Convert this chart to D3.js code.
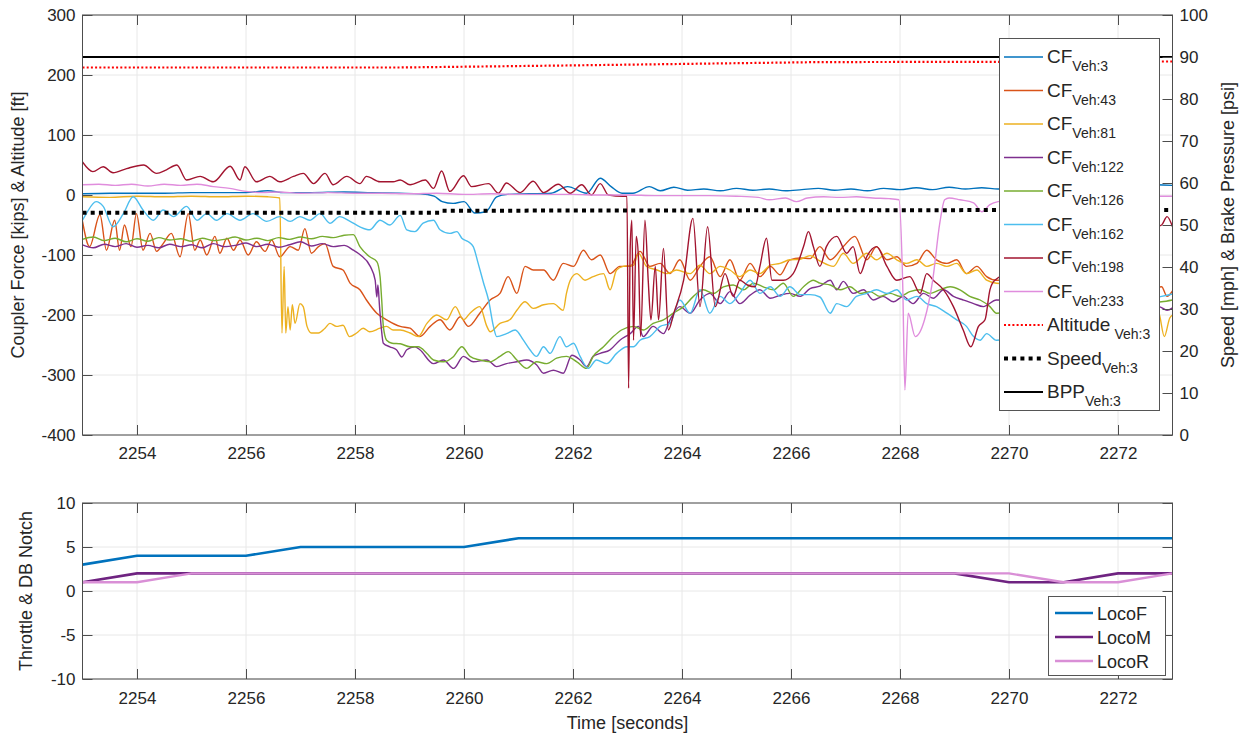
<!DOCTYPE html>
<html>
<head>
<meta charset="utf-8">
<script src="https://cdn.jsdelivr.net/npm/d3@7"></script>
<style>
  body { margin: 0; background: #fff; }
  text { font-family: "Liberation Sans", Arial, Helvetica, sans-serif; fill: #262626; }
</style>
</head>
<body>
<svg id="chart" width="1249" height="734"></svg>
<script>
/* global d3 */

// ---- data ----
var xTicks = [2254, 2256, 2258, 2260, 2262, 2264, 2266, 2268, 2270, 2272];
var leftTicks = [-400, -300, -200, -100, 0, 100, 200, 300];
var rightTicks = [0, 10, 20, 30, 40, 50, 60, 70, 80, 90, 100];
var notchTicks = [-10, -5, 0, 5, 10];

// coupler forces [time, kips]
var cf3 = [[2253.0,2],[2253.5,3],[2254.0,3],[2254.5,3],[2255.0,4],[2255.5,4],[2256.0,4],[2256.4,7],[2256.7,4],[2257.2,4],[2257.8,5],[2258.3,4],[2258.8,3],[2259.2,2],[2259.45,-2],[2259.6,-11],[2259.8,-14],[2260.0,-11],[2260.2,-30],[2260.4,-28],[2260.6,-3],[2260.8,1],[2261.2,2],[2261.6,3],[2261.9,14],[2262.25,3],[2262.5,28],[2262.7,14],[2262.9,3],[2263.1,3],[2263.4,14],[2263.6,7],[2263.85,13],[2264.1,8],[2264.4,10],[2264.7,7],[2265.0,11],[2265.3,8],[2265.6,10],[2265.9,7],[2266.2,9],[2266.5,11],[2266.8,8],[2267.1,10],[2267.4,7],[2267.7,11],[2268.0,9],[2268.3,12],[2268.6,9],[2268.9,13],[2269.2,10],[2269.5,12],[2269.8,10],[2270.5,12],[2271.5,14],[2272.3,15],[2272.7,17],[2273.0,16]];
var cf43 = [[2253.0,-44],[2253.13,-86],[2253.32,-33],[2253.44,-92],[2253.59,-42],[2253.68,-92],[2253.77,-50],[2253.89,-86],[2253.99,-31],[2254.11,-92],[2254.24,-64],[2254.36,-94],[2254.48,-81],[2254.63,-64],[2254.79,-103],[2254.94,-31],[2255.06,-92],[2255.16,-75],[2255.28,-100],[2255.43,-69],[2255.52,-97],[2255.65,-72],[2255.77,-92],[2255.89,-75],[2256.04,-100],[2256.19,-78],[2256.35,-94],[2256.47,-75],[2256.62,-103],[2256.81,-86],[2256.96,-92],[2257.08,-56],[2257.2,-97],[2257.33,-86],[2257.45,-81],[2257.6,-119],[2257.78,-125],[2257.91,-147],[2258.09,-158],[2258.21,-175],[2258.4,-197],[2258.58,-208],[2258.83,-219],[2259.01,-222],[2259.19,-236],[2259.38,-219],[2259.56,-208],[2259.74,-225],[2259.93,-203],[2260.08,-219],[2260.29,-197],[2260.48,-175],[2260.66,-164],[2260.81,-136],[2260.97,-164],[2261.12,-119],[2261.27,-125],[2261.46,-125],[2261.64,-142],[2261.82,-114],[2262.01,-119],[2262.19,-92],[2262.34,-108],[2262.5,-100],[2262.68,-131],[2262.86,-119],[2263.05,-119],[2263.23,-94],[2263.41,-119],[2263.6,-114],[2263.78,-131],[2263.96,-108],[2264.15,-142],[2264.33,-119],[2264.51,-103],[2264.7,-136],[2264.88,-108],[2265.06,-142],[2265.25,-114],[2265.43,-136],[2265.62,-119],[2265.8,-133],[2265.98,-108],[2266.17,-105],[2266.35,-106],[2266.53,-86],[2266.72,-108],[2266.96,-86],[2267.17,-69],[2267.39,-108],[2267.57,-86],[2267.76,-108],[2267.94,-103],[2268.12,-119],[2268.31,-114],[2268.49,-92],[2268.67,-108],[2268.86,-114],[2269.04,-108],[2269.22,-131],[2269.41,-119],[2269.59,-136],[2269.77,-142],[2270.3,-140],[2271.0,-150],[2271.8,-155],[2272.4,-160],[2272.8,-153],[2272.9,-169],[2273.0,-160]];
var cf81 = [[2253.0,-3],[2253.5,-4],[2254.0,-2],[2254.5,-3],[2255.0,-2],[2255.5,-3],[2256.0,-2],[2256.4,-3],[2256.62,-5],[2256.66,-230],[2256.7,-119],[2256.73,-230],[2256.77,-186],[2256.81,-225],[2256.85,-183],[2256.9,-214],[2256.99,-181],[2257.05,-186],[2257.12,-219],[2257.2,-230],[2257.33,-230],[2257.45,-222],[2257.54,-214],[2257.66,-219],[2257.78,-217],[2257.9,-236],[2258.03,-230],[2258.15,-222],[2258.27,-228],[2258.46,-222],[2258.58,-219],[2258.7,-225],[2258.83,-225],[2259.01,-230],[2259.16,-236],[2259.32,-214],[2259.5,-200],[2259.68,-208],[2259.84,-186],[2259.99,-208],[2260.11,-197],[2260.29,-186],[2260.42,-219],[2260.48,-228],[2260.66,-214],[2260.84,-208],[2260.97,-192],[2261.12,-178],[2261.27,-189],[2261.46,-183],[2261.64,-181],[2261.82,-192],[2261.88,-164],[2261.95,-142],[2262.07,-131],[2262.22,-142],[2262.37,-136],[2262.56,-131],[2262.68,-158],[2262.8,-125],[2262.92,-119],[2263.11,-117],[2263.2,-97],[2263.35,-119],[2263.54,-125],[2263.72,-131],[2263.9,-125],[2264.15,-131],[2264.33,-117],[2264.51,-131],[2264.7,-119],[2264.88,-125],[2265.06,-136],[2265.25,-125],[2265.43,-131],[2265.62,-117],[2265.8,-114],[2265.98,-108],[2266.17,-107],[2266.35,-101],[2266.53,-110],[2266.78,-119],[2266.96,-97],[2267.14,-114],[2267.39,-97],[2267.57,-108],[2267.76,-97],[2267.94,-108],[2268.12,-114],[2268.31,-108],[2268.49,-119],[2268.67,-114],[2268.86,-119],[2269.04,-114],[2269.22,-131],[2269.41,-125],[2269.59,-142],[2269.77,-147],[2270.4,-150],[2271.2,-160],[2272.0,-170],[2272.5,-180],[2272.75,-197],[2272.85,-236],[2272.95,-205],[2273.0,-200]];
var cf122 = [[2253.0,-83],[2253.2,-88],[2253.4,-82],[2253.6,-86],[2253.8,-81],[2254.0,-87],[2254.2,-84],[2254.4,-88],[2254.6,-82],[2254.8,-86],[2255.0,-83],[2255.2,-88],[2255.4,-81],[2255.6,-86],[2255.8,-84],[2256.0,-80],[2256.2,-86],[2256.4,-82],[2256.6,-87],[2256.8,-83],[2257.0,-78],[2257.2,-85],[2257.4,-81],[2257.6,-86],[2257.8,-84],[2257.97,-92],[2258.1,-100],[2258.28,-119],[2258.37,-142],[2258.4,-170],[2258.42,-150],[2258.45,-186],[2258.48,-219],[2258.52,-247],[2258.64,-253],[2258.76,-258],[2258.86,-270],[2258.95,-258],[2259.1,-253],[2259.19,-258],[2259.44,-281],[2259.62,-275],[2259.81,-289],[2259.99,-269],[2260.17,-278],[2260.42,-275],[2260.6,-286],[2260.78,-281],[2260.97,-278],[2261.15,-275],[2261.33,-283],[2261.46,-297],[2261.64,-292],[2261.82,-297],[2261.98,-267],[2262.13,-275],[2262.25,-286],[2262.37,-269],[2262.5,-264],[2262.68,-258],[2262.86,-242],[2263.05,-231],[2263.2,-219],[2263.29,-236],[2263.47,-219],[2263.66,-231],[2263.78,-208],[2263.96,-186],[2264.15,-197],[2264.33,-175],[2264.51,-164],[2264.7,-181],[2264.88,-161],[2265.06,-181],[2265.25,-167],[2265.43,-158],[2265.62,-172],[2265.8,-167],[2265.98,-164],[2266.17,-169],[2266.35,-156],[2266.53,-152],[2266.72,-142],[2266.84,-158],[2266.96,-144],[2267.14,-164],[2267.33,-158],[2267.51,-175],[2267.69,-169],[2267.88,-178],[2268.06,-169],[2268.24,-181],[2268.43,-164],[2268.61,-172],[2268.8,-158],[2268.98,-169],[2269.16,-175],[2269.35,-181],[2269.53,-186],[2269.77,-175],[2270.5,-180],[2271.5,-185],[2272.3,-188],[2272.75,-186],[2272.9,-192],[2273.0,-188]];
var cf126 = [[2253.0,-74],[2253.2,-70],[2253.4,-76],[2253.6,-72],[2253.8,-78],[2254.0,-73],[2254.2,-77],[2254.4,-71],[2254.6,-75],[2254.8,-73],[2255.0,-77],[2255.2,-72],[2255.4,-76],[2255.6,-74],[2255.8,-70],[2256.0,-75],[2256.2,-72],[2256.4,-76],[2256.6,-71],[2256.8,-74],[2257.0,-70],[2257.2,-73],[2257.4,-69],[2257.6,-71],[2257.8,-67],[2257.97,-66],[2258.09,-86],[2258.27,-103],[2258.4,-111],[2258.46,-136],[2258.49,-175],[2258.52,-219],[2258.58,-242],[2258.68,-247],[2258.83,-248],[2259.01,-253],[2259.16,-253],[2259.32,-264],[2259.44,-275],[2259.62,-278],[2259.81,-269],[2259.96,-253],[2260.11,-269],[2260.29,-275],[2260.48,-278],[2260.66,-269],[2260.81,-261],[2260.97,-275],[2261.15,-289],[2261.33,-278],[2261.52,-281],[2261.7,-272],[2261.88,-269],[2262.07,-278],[2262.25,-289],[2262.37,-269],[2262.56,-253],[2262.74,-236],[2262.89,-225],[2263.11,-219],[2263.29,-225],[2263.47,-214],[2263.66,-208],[2263.84,-197],[2264.03,-186],[2264.21,-169],[2264.39,-158],[2264.58,-164],[2264.76,-153],[2264.94,-150],[2265.13,-158],[2265.31,-147],[2265.49,-153],[2265.68,-158],[2265.86,-147],[2266.04,-169],[2266.23,-153],[2266.41,-142],[2266.53,-147],[2266.72,-150],[2266.9,-158],[2267.08,-153],[2267.27,-164],[2267.45,-161],[2267.63,-169],[2267.82,-164],[2268.0,-169],[2268.18,-161],[2268.37,-158],[2268.55,-164],[2268.73,-158],[2268.92,-153],[2269.1,-158],[2269.28,-169],[2269.47,-175],[2269.65,-186],[2269.77,-197],[2270.5,-190],[2271.5,-185],[2272.8,-178],[2273.0,-175]];
var cf162 = [[2253.0,-42],[2253.07,-31],[2253.25,-11],[2253.38,-19],[2253.56,-53],[2253.75,-31],[2253.93,-3],[2254.11,-25],[2254.3,-42],[2254.48,-25],[2254.67,-36],[2254.91,-19],[2255.1,-42],[2255.28,-31],[2255.46,-42],[2255.65,-31],[2255.89,-42],[2256.13,-31],[2256.38,-44],[2256.62,-36],[2256.81,-44],[2256.99,-36],[2257.17,-42],[2257.36,-31],[2257.54,-47],[2257.72,-36],[2257.91,-44],[2258.09,-53],[2258.27,-58],[2258.46,-42],[2258.64,-50],[2258.83,-34],[2258.95,-58],[2259.1,-61],[2259.25,-47],[2259.44,-42],[2259.56,-58],[2259.74,-64],[2259.87,-61],[2259.96,-72],[2260.08,-78],[2260.17,-86],[2260.26,-114],[2260.36,-147],[2260.45,-175],[2260.54,-219],[2260.6,-236],[2260.78,-231],[2260.94,-225],[2261.09,-242],[2261.21,-258],[2261.33,-269],[2261.46,-253],[2261.58,-264],[2261.76,-236],[2261.88,-253],[2262.01,-247],[2262.13,-269],[2262.28,-289],[2262.43,-275],[2262.62,-281],[2262.8,-264],[2262.99,-253],[2263.11,-253],[2263.23,-242],[2263.41,-236],[2263.6,-219],[2263.78,-214],[2263.96,-175],[2264.15,-197],[2264.33,-158],[2264.51,-197],[2264.7,-169],[2264.88,-181],[2265.06,-164],[2265.25,-142],[2265.43,-164],[2265.62,-153],[2265.8,-169],[2265.98,-153],[2266.17,-166],[2266.35,-166],[2266.53,-170],[2266.72,-197],[2266.84,-181],[2267.02,-186],[2267.2,-169],[2267.39,-164],[2267.57,-158],[2267.76,-164],[2267.94,-158],[2268.12,-175],[2268.31,-169],[2268.49,-181],[2268.67,-186],[2268.86,-197],[2269.04,-208],[2269.22,-219],[2269.35,-236],[2269.47,-242],[2269.59,-231],[2269.77,-242],[2270.5,-220],[2271.5,-195],[2272.8,-169],[2273.0,-165]];
var cf198 = [[2253.0,55],[2253.19,39],[2253.38,47],[2253.56,37],[2253.81,44],[2254.12,50],[2254.36,36],[2254.54,42],[2254.73,50],[2254.91,25],[2255.16,31],[2255.4,22],[2255.71,48],[2255.89,25],[2255.98,47],[2256.19,22],[2256.44,31],[2256.62,22],[2256.87,31],[2257.05,36],[2257.24,19],[2257.45,36],[2257.6,17],[2257.85,31],[2258.09,19],[2258.21,31],[2258.46,22],[2258.7,22],[2258.83,25],[2259.01,17],[2259.29,25],[2259.44,11],[2259.59,40],[2259.74,6],[2259.99,32],[2260.14,14],[2260.45,19],[2260.63,3],[2260.78,20],[2261.03,4],[2261.27,23],[2261.46,4],[2261.73,18],[2261.95,3],[2262.16,17],[2262.34,0],[2262.5,19],[2262.65,0],[2262.92,-2],[2262.99,-2],[2263.02,-322],[2263.05,-86],[2263.08,-42],[2263.11,-242],[2263.16,-69],[2263.2,-103],[2263.24,-236],[2263.32,-42],[2263.38,-142],[2263.43,-208],[2263.51,-119],[2263.57,-208],[2263.66,-89],[2263.75,-225],[2263.85,-197],[2264.03,-142],[2264.2,-39],[2264.33,-186],[2264.47,-53],[2264.61,-186],[2264.79,-131],[2264.94,-169],[2265.06,-142],[2265.2,-150],[2265.34,-153],[2265.43,-119],[2265.55,-72],[2265.65,-142],[2265.86,-142],[2266.04,-131],[2266.23,-86],[2266.32,-61],[2266.41,-86],[2266.53,-119],[2266.65,-86],[2266.84,-69],[2267.02,-97],[2267.14,-86],[2267.27,-131],[2267.39,-103],[2267.57,-86],[2267.76,-119],[2267.94,-142],[2268.18,-136],[2268.37,-164],[2268.49,-131],[2268.61,-142],[2268.8,-158],[2268.98,-186],[2269.16,-225],[2269.3,-253],[2269.44,-219],[2269.56,-208],[2269.65,-158],[2269.74,-142],[2270.3,-120],[2271.0,-90],[2271.8,-70],[2272.4,-60],[2272.8,-50],[2272.9,-36],[2273.0,-53]];
var cf233 = [[2253.0,17],[2253.3,18],[2253.6,16],[2253.9,18],[2254.2,15],[2254.5,18],[2254.8,16],[2255.1,18],[2255.4,14],[2255.7,11],[2256.0,6],[2256.3,4],[2256.6,5],[2257.0,3],[2257.5,4],[2258.0,3],[2258.5,3],[2259.0,2],[2259.5,3],[2260.0,1],[2260.5,2],[2261.0,1],[2261.5,1],[2262.0,1],[2262.5,0],[2263.0,0],[2263.5,-1],[2264.0,-1],[2264.5,-1],[2265.0,-2],[2265.4,-4],[2265.6,-8],[2265.9,-5],[2266.1,-11],[2266.3,-5],[2266.6,-3],[2266.9,-4],[2267.2,-3],[2267.5,-5],[2267.8,-6],[2267.98,-8],[2268.05,-150],[2268.09,-325],[2268.15,-197],[2268.28,-236],[2268.45,-208],[2268.6,-142],[2268.73,-47],[2268.82,-8],[2268.9,-5],[2269.1,-8],[2269.35,-13],[2269.5,-28],[2269.65,-16],[2269.8,-11],[2270.5,-5],[2271.5,-3],[2272.5,-2],[2273.0,-2]];

// altitude [ft] on the left axis, speed [mph] and brake pipe pressure [psi] on the right
var altitude = [[2253.0,212.5],[2258.8,212.5],[2262.0,216],[2266.5,221.5],[2273.0,222.5]];
var speed = [[2253.0,52.9],[2259.55,52.9],[2259.6,53.4],[2273.0,53.6]];
var bpp = [[2253.0,90],[2273.0,90]];

// throttle / dynamic brake notch, one sample per second
var locoTime = [2253,2254,2255,2256,2257,2258,2259,2260,2261,2262,2263,2264,2265,2266,2267,2268,2269,2270,2271,2272,2273];
var locoF = [3,4,4,4,5,5,5,5,6,6,6,6,6,6,6,6,6,6,6,6,6];
var locoM = [1,2,2,2,2,2,2,2,2,2,2,2,2,2,2,2,2,1,1,2,2];
var locoR = [1,1,2,2,2,2,2,2,2,2,2,2,2,2,2,2,2,2,1,1,2];

// ---- layout ----
var svg = d3.select('#chart');
var axisColor = '#4d4d4d', gridColor = '#e8e8e8';
var left = 82.5, right = 1172.5;
var top1 = 15, bot1 = 435, top2 = 503, bot2 = 679;
var plain = d => String(d);   // "2254", "-400" as in the original

var x = d3.scaleLinear().domain([2253, 2273]).range([left, right]);
var yL = d3.scaleLinear().domain([-400, 300]).range([bot1, top1]);
var yR = d3.scaleLinear().domain([0, 100]).range([bot1, top1]);
var yB = d3.scaleLinear().domain([-10, 10]).range([bot2, top2]);

var clip = svg.append('defs');
clip.append('clipPath').attr('id', 'clip1').append('rect')
  .attr('x', left).attr('y', top1).attr('width', right - left).attr('height', bot1 - top1);
clip.append('clipPath').attr('id', 'clip2').append('rect')
  .attr('x', left).attr('y', top2).attr('width', right - left).attr('height', bot2 - top2);

function grid(g, yScale, yTicks, y0, y1) {
  g.selectAll('line.gx').data(xTicks).enter().append('line')
    .attr('x1', d => x(d)).attr('x2', d => x(d)).attr('y1', y0).attr('y2', y1)
    .attr('stroke', gridColor).attr('stroke-width', 1);
  g.selectAll('line.gy').data(yTicks).enter().append('line')
    .attr('x1', left).attr('x2', right).attr('y1', d => yScale(d)).attr('y2', d => yScale(d))
    .attr('stroke', gridColor).attr('stroke-width', 1);
}

function styleAxis(g) {
  g.select('.domain').remove();
  g.selectAll('line').attr('stroke', axisColor);
  g.selectAll('text').attr('font-size', 17).attr('fill', '#262626')
    .attr('font-family', '"Liberation Sans", Arial, sans-serif');
}

// ---- top panel ----
var p1 = svg.append('g');
grid(p1.append('g'), yL, leftTicks, top1, bot1);

var lineL = d3.line().x(d => x(d[0])).y(d => yL(d[1])).curve(d3.curveMonotoneX);
var lineR = d3.line().x(d => x(d[0])).y(d => yR(d[1]));

var cfSeries = [
  { name: '3', data: cf3, color: '#0072BD' },
  { name: '43', data: cf43, color: '#D95319' },
  { name: '81', data: cf81, color: '#EDB120' },
  { name: '122', data: cf122, color: '#7E2F8E' },
  { name: '126', data: cf126, color: '#77AC30' },
  { name: '162', data: cf162, color: '#4DBEEE' },
  { name: '198', data: cf198, color: '#A2142F' },
  { name: '233', data: cf233, color: '#E08DDD' }
];

var plot1 = p1.append('g').attr('clip-path', 'url(#clip1)');
plot1.selectAll('path.cf').data(cfSeries).enter().append('path')
  .attr('class', 'cf')
  .attr('d', d => lineL(d.data))
  .attr('fill', 'none').attr('stroke', d => d.color).attr('stroke-width', 1.4);

plot1.append('path').attr('d', d3.line().x(d => x(d[0])).y(d => yL(d[1]))(altitude))
  .attr('fill', 'none').attr('stroke', '#ff0000').attr('stroke-width', 2.2)
  .attr('stroke-dasharray', '2,2.2');
plot1.append('path').attr('d', lineR(speed))
  .attr('fill', 'none').attr('stroke', '#000').attr('stroke-width', 4)
  .attr('stroke-dasharray', '4,4.2');
plot1.append('path').attr('d', lineR(bpp))
  .attr('fill', 'none').attr('stroke', '#000').attr('stroke-width', 2.2);

// axes, ticks pointing inward
p1.append('g').attr('transform', `translate(0,${bot1})`)
  .call(d3.axisBottom(x).tickValues(xTicks).tickFormat(plain).tickSizeInner(-10).tickSizeOuter(0).tickPadding(12))
  .call(styleAxis);
p1.append('g').attr('transform', `translate(0,${top1})`)
  .call(d3.axisTop(x).tickValues(xTicks).tickSizeInner(-10).tickSizeOuter(0).tickFormat(''))
  .call(styleAxis);
p1.append('g').attr('transform', `translate(${left},0)`)
  .call(d3.axisLeft(yL).tickValues(leftTicks).tickFormat(plain).tickSizeInner(-10).tickSizeOuter(0).tickPadding(7))
  .call(styleAxis);
p1.append('g').attr('transform', `translate(${right},0)`)
  .call(d3.axisRight(yR).tickValues(rightTicks).tickFormat(plain).tickSizeInner(-10).tickSizeOuter(0).tickPadding(7))
  .call(styleAxis);
p1.append('rect').attr('x', left).attr('y', top1).attr('width', right - left).attr('height', bot1 - top1)
  .attr('fill', 'none').attr('stroke', axisColor).attr('stroke-width', 1);

p1.append('text').attr('transform', `translate(24,${(top1 + bot1) / 2}) rotate(-90)`)
  .attr('text-anchor', 'middle').attr('font-size', 18)
  .text('Coupler Force [kips] & Altitude [ft]');
p1.append('text').attr('transform', `translate(1234,${(top1 + bot1) / 2}) rotate(-90)`)
  .attr('text-anchor', 'middle').attr('font-size', 18)
  .text('Speed [mph] & Brake Pressure [psi]');

// legend of the top panel
var legendItems = cfSeries.map(d => ({ main: 'CF', sub: 'Veh:' + d.name, color: d.color, width: 1.4, dash: null }))
  .concat([
    { main: 'Altitude', sub: 'Veh:3', color: '#ff0000', width: 2.2, dash: '2,2.2', gap: 4 },
    { main: 'Speed', sub: 'Veh:3', color: '#000', width: 4, dash: '4,4.2' },
    { main: 'BPP', sub: 'Veh:3', color: '#000', width: 2.2, dash: null }
  ]);

var leg1 = svg.append('g');
leg1.append('rect').attr('x', 999.5).attr('y', 38.5).attr('width', 160).attr('height', 372)
  .attr('fill', '#fff').attr('stroke', '#555').attr('stroke-width', 1);
var entry = leg1.selectAll('g.entry').data(legendItems).enter().append('g')
  .attr('class', 'entry')
  .attr('transform', (d, i) => `translate(0,${57 + i * 33.5})`);
entry.append('line').attr('x1', 1004).attr('x2', 1043).attr('y1', 0).attr('y2', 0)
  .attr('stroke', d => d.color).attr('stroke-width', d => d.width)
  .attr('stroke-dasharray', d => d.dash);
var lt = entry.append('text').attr('x', 1047).attr('y', 6).attr('font-size', 19);
lt.append('tspan').text(d => d.main);
lt.append('tspan').attr('dx', d => d.gap || 0).attr('dy', 8).attr('font-size', 14).text(d => d.sub);

// ---- bottom panel ----
var p2 = svg.append('g');
grid(p2.append('g'), yB, notchTicks, top2, bot2);

var notchLine = d3.line().x((d, i) => x(locoTime[i])).y(d => yB(d));
var locoSeries = [
  { name: 'LocoF', data: locoF, color: '#0072BD', width: 2.6 },
  { name: 'LocoM', data: locoM, color: '#6F2381', width: 2.6 },
  { name: 'LocoR', data: locoR, color: '#D98FD6', width: 2.4 }
];
var plot2 = p2.append('g').attr('clip-path', 'url(#clip2)');
plot2.selectAll('path.loco').data(locoSeries).enter().append('path')
  .attr('class', 'loco')
  .attr('d', d => notchLine(d.data))
  .attr('fill', 'none').attr('stroke', d => d.color).attr('stroke-width', d => d.width);

p2.append('g').attr('transform', `translate(0,${bot2})`)
  .call(d3.axisBottom(x).tickValues(xTicks).tickFormat(plain).tickSizeInner(-10).tickSizeOuter(0).tickPadding(13))
  .call(styleAxis);
p2.append('g').attr('transform', `translate(0,${top2})`)
  .call(d3.axisTop(x).tickValues(xTicks).tickSizeInner(-10).tickSizeOuter(0).tickFormat(''))
  .call(styleAxis);
p2.append('g').attr('transform', `translate(${left},0)`)
  .call(d3.axisLeft(yB).tickValues(notchTicks).tickFormat(plain).tickSizeInner(-10).tickSizeOuter(0).tickPadding(7))
  .call(styleAxis);
p2.append('g').attr('transform', `translate(${right},0)`)
  .call(d3.axisRight(yB).tickValues(notchTicks).tickSizeInner(-10).tickSizeOuter(0).tickFormat(''))
  .call(styleAxis);
p2.append('rect').attr('x', left).attr('y', top2).attr('width', right - left).attr('height', bot2 - top2)
  .attr('fill', 'none').attr('stroke', axisColor).attr('stroke-width', 1);

p2.append('text').attr('transform', `translate(32,${(top2 + bot2) / 2}) rotate(-90)`)
  .attr('text-anchor', 'middle').attr('font-size', 18)
  .text('Throttle & DB Notch');
p2.append('text').attr('x', (left + right) / 2).attr('y', 729)
  .attr('text-anchor', 'middle').attr('font-size', 18)
  .text('Time [seconds]');

// legend of the bottom panel
var leg2 = svg.append('g');
leg2.append('rect').attr('x', 1048.5).attr('y', 596.5).attr('width', 117).attr('height', 79)
  .attr('fill', '#fff').attr('stroke', '#555').attr('stroke-width', 1);
var e2 = leg2.selectAll('g.entry').data(locoSeries).enter().append('g')
  .attr('class', 'entry')
  .attr('transform', (d, i) => `translate(0,${613 + i * 24})`);
e2.append('line').attr('x1', 1055).attr('x2', 1093).attr('y1', 0).attr('y2', 0)
  .attr('stroke', d => d.color).attr('stroke-width', d => d.width);
e2.append('text').attr('x', 1097).attr('y', 6.5).attr('font-size', 18).text(d => d.name);
</script>
</body>
</html>
